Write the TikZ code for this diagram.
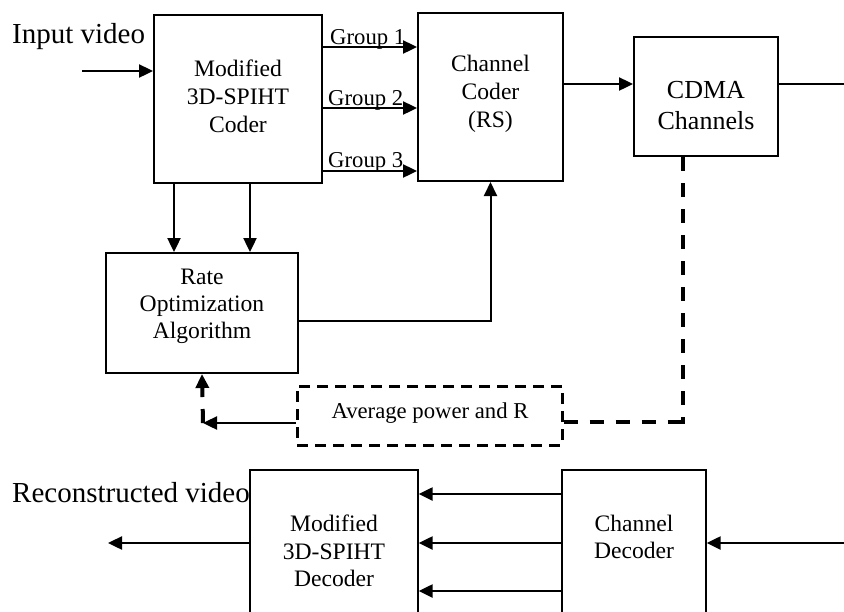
\documentclass[tikz,border=0pt]{standalone}
\usepackage{fontspec}
\setmainfont{Liberation Serif}
\usetikzlibrary{arrows.meta}
\begin{document}
\begin{tikzpicture}[x=1pt,y=-1pt,
  box/.style={draw,line width=2pt,inner sep=0pt},
  thinbox/.style={draw,line width=1.4pt,inner sep=0pt},
  lbl/.style={font=\fontsize{23.6}{28}\selectfont,align=center,inner sep=0pt},
  big/.style={font=\fontsize{29}{34}\selectfont,inner sep=0pt},
  grp/.style={font=\fontsize{22.7}{26}\selectfont,inner sep=0pt},
  tip/.style={-{Triangle[length=14pt,width=13pt]}},
  arr/.style={line width=2.4pt,tip},
  dsh/.style={line width=4pt,dash pattern=on 14pt off 12pt},
]
\useasboundingbox (0,0) rectangle (844,611);
\clip (0,0) rectangle (844,611);
% boxes
\node[box,minimum width=168pt,minimum height=168pt] (coder) at (238,99) {};
\node[lbl] (codertxt) at (238,96) {Modified\\3D-SPIHT\\Coder};
\node[box,minimum width=145pt,minimum height=168pt] (chc) at (490.5,97) {};
\node[lbl] (chctxt) at (490.5,94) {Channel\\Coder\\(RS)};
\node[box,minimum width=144pt,minimum height=119pt] (cdma) at (706,96.5) {};
\node[lbl,font=\fontsize{26}{31}\selectfont] (cdmatxt) at (706,106) {CDMA\\Channels};
\node[box,minimum width=192pt,minimum height=120pt] (rate) at (202,313) {};
\node[lbl,font=\fontsize{23.6}{27}\selectfont] (ratetxt) at (202,306) {Rate\\Optimization\\Algorithm};
\node[draw,line width=3pt,dash pattern=on 11pt off 7pt,inner sep=0pt,minimum width=265pt,minimum height=59pt] (avg) at (429.5,415.5) {};
\node[grp] (avgtxt) at (430,413) {Average power and R};
\node[thinbox,minimum width=168pt,minimum height=180pt] (dec) at (334,560) {};
\node[lbl,font=\fontsize{23.6}{27.5}\selectfont] (dectxt) at (334,551) {Modified\\3D-SPIHT\\Decoder};
\node[thinbox,minimum width=144pt,minimum height=180pt] (chd) at (634,560) {};
\node[lbl,font=\fontsize{23.6}{27.5}\selectfont] (chdtxt) at (634,537) {Channel\\Decoder};
% free labels
\node[big,anchor=base west] (inlbl) at (12,43) {Input video};
\node[big,anchor=base east] (reclbl) at (250,502) {Reconstructed video};
\node[grp,anchor=base west] (g1) at (330,44) {Group 1};
\node[grp,anchor=base west] (g2) at (328,105) {Group 2};
\node[grp,anchor=base west] (g3) at (328,167) {Group 3};
% coordinates
\coordinate (inS) at (82,71);
\coordinate (outE) at (844,84);
\coordinate (dk) at (683,422);
\coordinate (lk) at (203,423);
\coordinate (inB) at (844,543);
\coordinate (outB) at (108,543);
% connectors
\draw[arr] (inS) -- (inS -| coder.west);
\draw[arr] (coder.east |- 0,47) -- (chc.west |- 0,47);
\draw[arr] (coder.east |- 0,108) -- (chc.west |- 0,108);
\draw[arr] (coder.east |- 0,171) -- (chc.west |- 0,171);
\draw[arr] (chc.east |- 0,84) -- (cdma.west |- 0,84);
\draw[line width=2pt] (cdma.east |- outE) -- (outE);
\draw[arr] (174,0 |- coder.south) -- (174,0 |- rate.north);
\draw[arr] (250,0 |- coder.south) -- (250,0 |- rate.north);
\draw[arr,line width=2pt] (rate.east |- 0,321) -| (chc.south);
\draw[dsh] (dk |- cdma.south) -- ([yshift=-2pt]dk);
\draw[dsh] (dk -| avg.east) -- ([xshift=2pt]dk);
\draw[arr] (avg.west |- lk) -- (lk);
\draw[dsh,tip] (lk) -- (rate.south);
\draw[arr] (chd.west |- 0,494) -- (dec.east |- 0,494);
\draw[arr] (chd.west |- 0,543) -- (dec.east |- 0,543);
\draw[arr] (chd.west |- 0,591) -- (dec.east |- 0,591);
\draw[arr] (inB) -- (chd.east |- inB);
\draw[arr] (dec.west |- outB) -- (outB);
\end{tikzpicture}
\end{document}
